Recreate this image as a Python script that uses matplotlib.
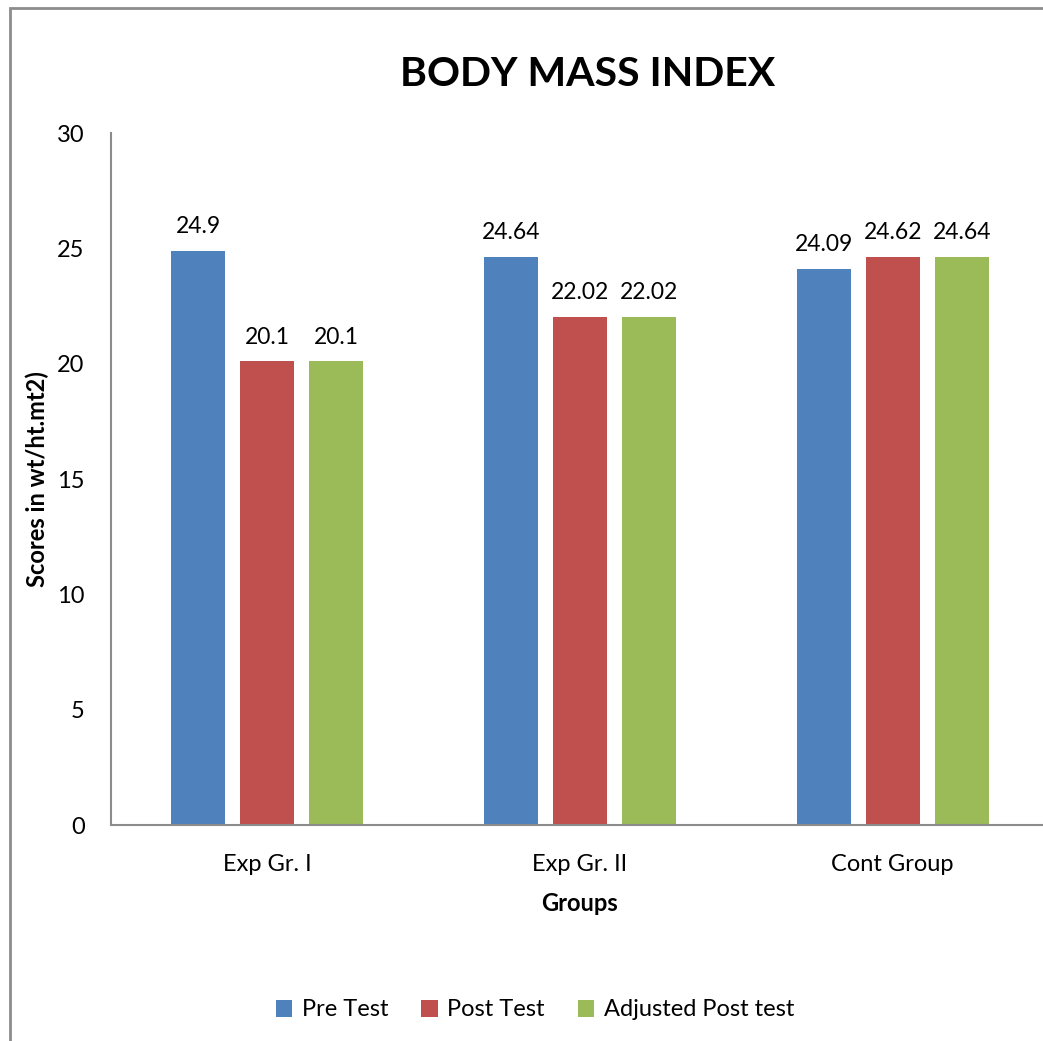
import matplotlib.pyplot as plt
import numpy as np
from matplotlib.patches import Rectangle

plt.rcParams['font.family'] = ['Lato', 'DejaVu Sans']

groups = ['Exp Gr. I', 'Exp Gr. II', 'Cont Group']
series = ['Pre Test', 'Post Test', 'Adjusted Post test']
pre_test = [24.9, 24.64, 24.09]
post_test = [20.1, 22.02, 24.62]
adj_post = [20.1, 22.02, 24.64]
labels = [['24.9', '24.64', '24.09'],
          ['20.1', '22.02', '24.62'],
          ['20.1', '22.02', '24.64']]
colors = ['#4F81BD', '#C0504D', '#9BBB59']

fig = plt.figure(figsize=(10.43, 10.41), dpi=100)
W, H = 1043, 1041

# outer chart border (only top/left visible in the original crop)
fig.patches.append(Rectangle((10 / W, -0.1), 1.2, 1 - 8 / H + 0.1, transform=fig.transFigure,
                             fill=False, edgecolor='#8c8c8c', linewidth=2))

ax = fig.add_axes([111 / W, 1 - 825 / H, (1049 - 111) / W, (825 - 133) / H])

x = np.arange(len(groups))
w = 0.173
step = 0.221
for i, (vals, name) in enumerate(zip([pre_test, post_test, adj_post], series)):
    bars = ax.bar(x + (i - 1) * step, vals, w, color=colors[i], label=name)
    for b, lab in zip(bars, labels[i]):
        ax.text(b.get_x() + b.get_width() / 2, b.get_height() + 0.6, lab,
                ha='center', va='bottom', fontsize=16.5)

ax.set_xlim(-0.5, 2.5)
ax.set_ylim(0, 30)
ax.set_yticks(range(0, 31, 5))
ax.set_xticks(x)
ax.set_xticklabels(groups, fontsize=17)
ax.tick_params(axis='y', labelsize=17, length=0, pad=19)
ax.tick_params(axis='x', length=0, pad=21)
for s in ['top', 'right']:
    ax.spines[s].set_visible(False)
for s in ['left', 'bottom']:
    ax.spines[s].set_color('#8c8c8c')
    ax.spines[s].set_linewidth(1.5)

ax.set_xlabel('Groups', fontsize=17, fontweight='bold', labelpad=12)
ax.set_ylabel('Scores in wt/ht.mt2)', fontsize=17, fontweight='bold', labelpad=6)

fig.text(588 / W, 1 - 75 / H, 'BODY MASS INDEX', ha='center', va='center',
         fontsize=29.5, fontweight='bold')

fig.legend(loc='center', bbox_to_anchor=(535 / W, 1 - 1010 / H), ncol=3, frameon=False,
           fontsize=17, handlelength=0.7, handleheight=0.7, handletextpad=0.4,
           columnspacing=1.4)

fig.savefig('out.png', dpi=100)
